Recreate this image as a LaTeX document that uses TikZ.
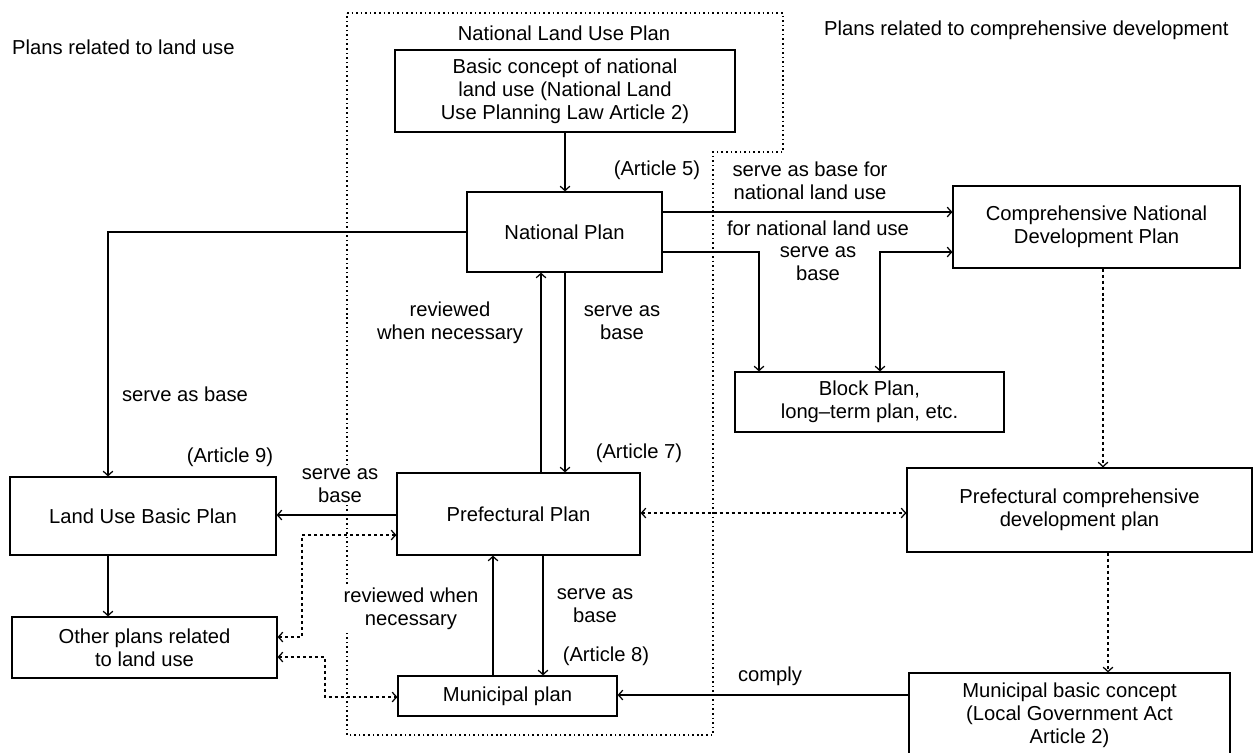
\documentclass[tikz,border=0pt]{standalone}
\usepackage{fontspec}
\setmainfont{Liberation Sans}
\usetikzlibrary{arrows.meta}

\begin{document}
\begin{tikzpicture}[x=0.02cm, y=-0.02cm,
	every node/.style={font=\fontsize{11.5}{13.1}\selectfont},
	plan/.style={draw, line width=0.7pt, align=center, inner sep=2pt},
	note/.style={align=center, inner sep=1pt},
	link/.style={line width=0.7pt, -{Straight Barb[length=2.5pt,width=5.5pt]}},
	twolink/.style={line width=0.7pt, {Straight Barb[length=2.5pt,width=5.5pt]}-{Straight Barb[length=2.5pt,width=5.5pt]}},
	loose/.style={dash pattern=on 1.7pt off 1.7pt},
	border/.style={line width=0.8pt, dash pattern=on 0.9pt off 1.7pt}]
	\useasboundingbox (0,0) rectangle (1253,752);
	
	%headings
	\node[anchor=west] (hdland) at (6,47) {Plans related to land use};
	\node (hdnat) at (564,33) {National Land Use Plan};
	\node[anchor=west] (hdcomp) at (818,30) {Plans related to comprehensive development};
	
	%dotted frame of the national land use plan
	\draw[border] (347,13) -- (783,13) -- (783,152) -- (713,152) -- (713,735) -- (347,735) -- cycle;
	
	%the plans
	\node[plan, minimum width=6.8cm, minimum height=1.64cm] (basic) at (565,91) {Basic concept of national\\land use (National Land\\Use Planning Law Article 2)};
	\node[plan, minimum width=3.9cm, minimum height=1.6cm] (natplan) at (564.5,232) {National Plan};
	\node[plan, minimum width=5.74cm, minimum height=1.64cm] (compnat) at (1096.5,227) {Comprehensive National\\Development Plan};
	\node[plan, minimum width=5.38cm, minimum height=1.2cm] (block) at (869.5,402) {Block Plan,\\long--term plan, etc.};
	\node[plan, minimum width=5.32cm, minimum height=1.56cm] (landuse) at (143,516) {Land Use Basic Plan};
	\node[plan, minimum width=4.86cm, minimum height=1.64cm] (pref) at (518.5,514) {Prefectural Plan};
	\node[plan, minimum width=6.9cm, minimum height=1.68cm] (prefcomp) at (1079.5,510) {Prefectural comprehensive\\development plan};
	\node[plan, minimum width=5.3cm, minimum height=1.22cm] (other) at (144.5,647.5) {Other plans related\\to land use};
	\node[plan, minimum width=4.38cm, minimum height=0.8cm] (muni) at (507.5,696) {Municipal plan};
	\node[plan, minimum width=6.42cm, minimum height=1.68cm] (munibasic) at (1069.5,715) {Municipal basic concept\\(Local Government Act\\Article 2)};
	
	%labels
	\node[note] (art5) at (657,170) {(Article 5)};
	\node[note] (lbbase1) at (810,181) {serve as base for\\national land use};
	\node[note, fill=white] (lbfor) at (818,228) {for national land use};
	\node[note] (lbbase2) at (818,264) {serve as\\base};
	\node[note] (lbrev1) at (450,323) {reviewed\\when necessary};
	\node[note] (lbbase3) at (622,323) {serve as\\base};
	\node[note] (lbbase4) at (185,394) {serve as base};
	\node[note] (art9) at (230,457) {(Article 9)};
	\node[note] (art7) at (639,453) {(Article 7)};
	\node[note, fill=white] (lbbase5) at (340,486) {serve as\\base};
	\node[note, fill=white] (lbrev2) at (411,609) {reviewed when\\necessary};
	\node[note] (lbbase6) at (595,606) {serve as\\base};
	\node[note] (art8) at (606,656) {(Article 8)};
	\node[note] (lbcomply) at (770,676) {comply};
	
	%solid connectors
	\draw[link] (basic.south -| 565,0) -- (natplan.north -| 565,0);
	\draw[link] (natplan.east |- 0,212) -- (compnat.west |- 0,212);
	\draw[link] (natplan.east |- 0,252) -| (block.north -| 759,0);
	\draw[twolink] (block.north -| 880,0) |- (compnat.west |- 0,252);
	\draw[link] (natplan.west) -| (landuse.north -| 108,0);
	\draw[link] (pref.north -| 541,0) -- (natplan.south -| 541,0);
	\draw[link] (natplan.south -| 565,0) -- (pref.north -| 565,0);
	\draw[link] (pref.west |- 0,515) -- (landuse.east |- 0,515);
	\draw[link] (landuse.south -| 108,0) -- (other.north -| 108,0);
	\draw[link] (muni.north -| 493,0) -- (pref.south -| 493,0);
	\draw[link] (pref.south -| 543,0) -- (muni.north -| 543,0);
	\draw[link] (munibasic.west |- 0,695) -- (muni.east |- 0,695);
	
	%dashed connectors
	\draw[twolink, loose] (pref.west |- 0,535) -| (302,637) -- (other.east |- 0,637);
	\draw[twolink, loose] (other.east |- 0,657) -| (325,697) -- (muni.west |- 0,697);
	\draw[twolink, loose] (pref.east |- 0,513) -- (prefcomp.west |- 0,513);
	\draw[link, loose] (compnat.south -| 1103,0) -- (prefcomp.north -| 1103,0);
	\draw[link, loose] (prefcomp.south -| 1108,0) -- (munibasic.north -| 1108,0);
	
\end{tikzpicture}
\end{document}
